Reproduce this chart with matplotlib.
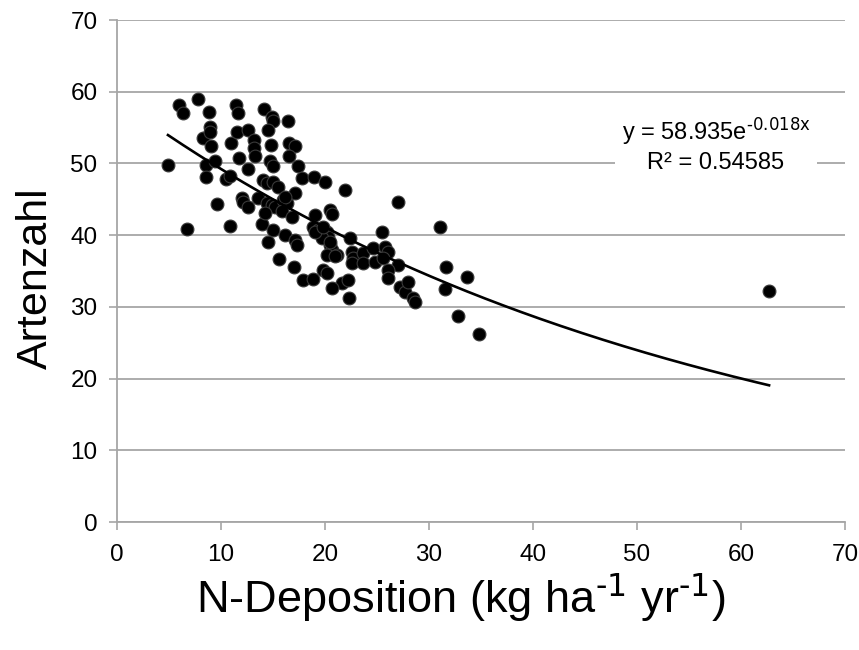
import numpy as np
import matplotlib
matplotlib.use("Agg")
import matplotlib.pyplot as plt

plt.rcParams.update({
    "font.family": ["Liberation Sans", "DejaVu Sans"],
    "mathtext.default": "regular",
    "figure.dpi": 100,
})

# ---------- Data ----------
n_dep = [
    4.9, 6.0, 6.3, 6.7, 7.8, 8.3, 8.6, 8.6, 8.8, 8.9, 8.9, 9.0, 9.4, 9.6,
    10.5, 10.9, 11.0, 10.9, 11.4, 11.6, 11.5, 11.7, 12.0, 12.1, 12.6, 12.6,
    12.6, 13.2, 13.2, 13.3, 13.6, 13.9, 14.1, 14.9, 15.0, 14.5, 14.8, 16.4,
    16.5, 17.1, 14.7, 15.0, 16.5, 17.4, 17.8, 18.9, 20.0, 21.9, 14.0, 14.4,
    15.0, 15.5, 14.4, 14.9, 15.2, 16.0, 16.3, 17.1, 14.2, 15.9, 16.8, 19.0,
    20.5, 20.7, 18.8, 19.3, 19.7, 20.2, 20.3, 15.0, 16.2, 17.1, 17.3, 14.5,
    20.5, 20.7, 21.2, 20.2, 15.6, 17.0, 19.8, 20.2, 17.9, 18.8, 27.0, 31.1,
    25.5, 22.4, 22.6, 22.7, 22.6, 23.7, 23.7, 24.6, 24.8, 25.8, 26.1, 25.6,
    27.0, 26.1, 26.1, 21.6, 22.2, 20.7, 22.3, 27.2, 27.7, 28.0, 28.5, 28.7,
    31.6, 31.5, 33.7, 32.8, 34.8, 62.7, 19.7, 16.2, 19.0, 19.8, 20.5, 21.0,
]
artenzahl = [
    49.8, 58.2, 57.0, 40.8, 59.0, 53.6, 49.8, 48.1, 57.2, 55.1, 54.4, 52.4,
    50.4, 44.3, 47.8, 48.3, 52.8, 41.3, 58.2, 57.0, 54.4, 50.8, 45.2, 44.6,
    43.9, 54.7, 49.2, 53.2, 52.2, 51.1, 45.2, 41.6, 57.6, 56.5, 55.9, 54.7,
    52.6, 55.9, 52.8, 52.4, 50.3, 49.6, 51.0, 49.6, 48.0, 48.1, 47.4, 46.3,
    47.7, 47.3, 47.4, 46.7, 44.5, 44.2, 43.9, 44.9, 44.5, 45.9, 43.1, 43.3,
    42.5, 42.8, 43.5, 43.0, 41.1, 40.7, 40.4, 40.4, 39.7, 40.7, 40.0, 39.3,
    38.6, 39.1, 38.6, 37.9, 37.2, 37.2, 36.7, 35.5, 35.1, 34.7, 33.8, 33.9,
    44.6, 41.1, 40.4, 39.6, 37.7, 36.8, 36.1, 37.5, 36.1, 38.2, 36.3, 38.4,
    37.7, 36.8, 35.8, 35.1, 34.0, 33.3, 33.8, 32.6, 31.2, 32.8, 32.1, 33.5,
    31.2, 30.7, 35.6, 32.5, 34.2, 28.7, 26.2, 32.2, 39.6, 45.3, 40.4, 41.1,
    39.0, 37.1,
]

# Excel exponential trendline as printed on the chart
fit_a = 58.935
fit_b = -0.018
fit_r2 = 0.54585

x_ticks = [0, 10, 20, 30, 40, 50, 60, 70]
y_ticks = [0, 10, 20, 30, 40, 50, 60, 70]

GRAY = "#a6a6a6"

fig = plt.figure(figsize=(8.59, 6.5))
ax = fig.add_axes([0.1362, 0.1969, 0.8475, 0.7723])

ax.scatter(n_dep, artenzahl, s=85, color="black", edgecolors="#3a3a3a",
           linewidths=0.8, zorder=3)

xs = np.linspace(min(n_dep), max(n_dep), 200)
ax.plot(xs, fit_a * np.exp(fit_b * xs), color="black", lw=1.9, zorder=4)

ax.set_xlim(0, 70)
ax.set_ylim(0, 70)
ax.set_xticks(x_ticks)
ax.set_yticks(y_ticks)
ax.tick_params(axis="both", colors=GRAY, length=6, width=1.2,
               labelsize=17.5, labelcolor="black")
ax.tick_params(axis="x", pad=10)
ax.tick_params(axis="y", pad=8)
ax.grid(axis="y", color=GRAY, lw=1.3)
ax.set_axisbelow(True)
for side in ("top", "right"):
    ax.spines[side].set_visible(False)
for side in ("left", "bottom"):
    ax.spines[side].set_color(GRAY)
    ax.spines[side].set_linewidth(1.3)

ax.set_ylabel("Artenzahl", fontsize=31, va="center")
ax.yaxis.set_label_coords(-0.111, 0.485)
ax.set_xlabel(r"N-Deposition (kg ha$^{\text{-1}}$ yr$^{\text{-1}}$)",
              fontsize=32.5, va="center")
ax.xaxis.set_label_coords(0.4725, -0.15)

eq_label = (f"y = {fit_a}e$^{{\\text{{{fit_b}x}}}}$\n"
            f"R\u00b2 = {fit_r2}")
ax.text(57.6, 52.6, eq_label, fontsize=17, ha="center", va="center",
        multialignment="center", linespacing=1.25, zorder=5,
        bbox=dict(facecolor="white", edgecolor="none", pad=5))

fig.savefig("out.png", dpi=100)
